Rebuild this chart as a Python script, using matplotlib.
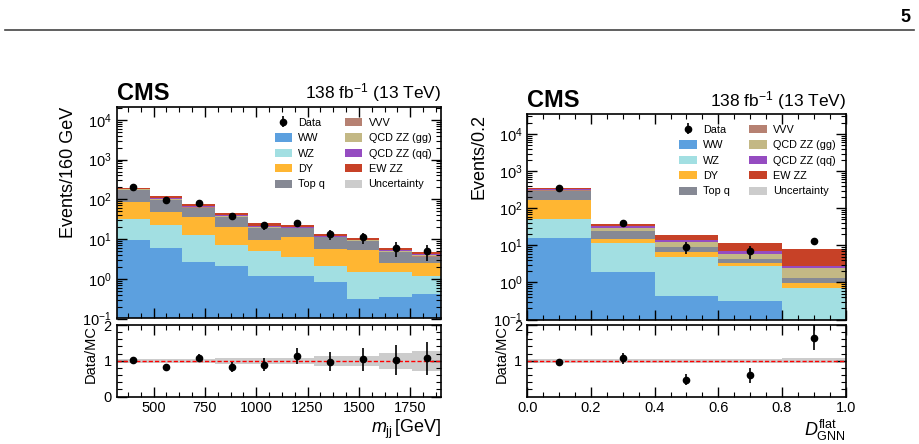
import numpy as np
import matplotlib
matplotlib.use("Agg")
import matplotlib.pyplot as plt
from matplotlib.lines import Line2D
from matplotlib.patches import Patch
from matplotlib.ticker import AutoMinorLocator, LogLocator, NullFormatter, FixedLocator, FormatStrFormatter

plt.rcParams['font.family'] = ['Liberation Sans', 'DejaVu Sans']
plt.rcParams['mathtext.fontset'] = 'custom'
plt.rcParams['mathtext.rm'] = 'Liberation Sans'
plt.rcParams['mathtext.it'] = 'Liberation Sans:italic'
plt.rcParams['mathtext.bf'] = 'Liberation Sans:bold'

# ---- left panel: m_jj ----
mjj_edges = [320, 480, 640, 800, 960, 1120, 1280, 1440, 1600, 1760, 1900]
mjj_ww = [9.4, 6.0, 2.66, 2.1, 1.19, 1.15, 0.81, 0.30, 0.35, 0.42]
mjj_wz = [22.2, 16.4, 9.9, 5.0, 3.9, 2.45, 1.34, 1.14, 1.09, 0.72]
mjj_dy = [53.4, 24.6, 22.4, 13.3, 4.3, 7.8, 3.45, 3.86, 1.02, 1.42]
mjj_top = [83, 47, 27, 15.6, 9.8, 7.1, 5.4, 3.6, 2.19, 1.04]
mjj_vvv = [1.0, 0.8, 0.5, 0.3, 0.2, 0.2, 0.1, 0.1, 0.05, 0.05]
mjj_gg = [8, 5, 3, 2, 1.0, 0.6, 0.4, 0.3, 0.2, 0.2]
mjj_qq = [9, 9, 4, 3, 1.5, 1.0, 0.6, 0.4, 0.3, 0.25]
mjj_ew = [10, 10, 5.5, 4.2, 2.8, 1.7, 1.2, 0.9, 0.65, 0.6]
mjj_data = [200, 98, 81, 38, 22, 25, 13, 11, 6, 5]
mjj_data_err = [14, 10, 9, 6.2, 4.7, 5, 3.6, 3.3, 2.4, 2.2]
mjj_unc = [0.05, 0.05, 0.05, 0.09, 0.09, 0.09, 0.14, 0.14, 0.23, 0.28]

# ---- right panel: D_GNN ----
gnn_edges = [0.0, 0.2, 0.4, 0.6, 0.8, 1.0]
gnn_ww = [15.5, 1.93, 0.43, 0.32, 0.05]
gnn_wz = [37.5, 10.0, 4.47, 2.48, 0.64]
gnn_dy = [110, 2.9, 1.7, 0.6, 0.27]
gnn_top = [139, 9.7, 2.3, 0.85, 0.32]
gnn_vvv = [2, 0.1, 0.1, 0.05, 0.02]
gnn_gg = [15, 4.2, 3.0, 1.5, 1.1]
gnn_qq = [20, 4.2, 2.1, 1.1, 0.4]
gnn_ew = [18, 5.5, 5.0, 5.0, 5.1]
gnn_data = [343, 41, 9, 7, 13]
gnn_data_err = [18.5, 6, 3, 2.6, 2.7]
gnn_unc = [0.05, 0.05, 0.05, 0.05, 0.07]

labels = ['WW', 'WZ', 'DY', 'Top q', 'VVV', 'QCD ZZ (gg)',
          'QCD ZZ (qq\u0304)', 'EW ZZ']
colors = ['#3f90da', '#92dadd', '#ffa90e', '#717581', '#a96b59',
          '#b9ac70', '#832db6', '#bd1f01']
unc_color = '#cccccc'

W, H = 920, 444
fig = plt.figure(figsize=(W / 100, H / 100), dpi=100)

# page header
fig.add_artist(Line2D([5 / W, 914 / W], [1 - 30 / H] * 2, color='#444444', lw=1.2))
fig.text(905 / W, 1 - 18 / H, '5', fontsize=13, fontweight='bold', ha='center', va='center')


def px_axes(x0, x1, y0, y1):
    return fig.add_axes([x0 / W, 1 - y1 / H, (x1 - x0) / W, (y1 - y0) / H])


def style_axes(ax):
    ax.tick_params(which='both', direction='in', top=True, right=True, labelsize=10.5)
    ax.tick_params(which='major', length=7, width=1)
    ax.tick_params(which='minor', length=3.5, width=0.8)
    for s in ax.spines.values():
        s.set_linewidth(1.2)


def draw_panel(ax, rax, edges, comps, data, derr, unc, ylim, ylabel, xlabel,
               xticks, legend_anchor):
    edges = np.array(edges)
    centers = 0.5 * (edges[1:] + edges[:-1])
    base = np.full(len(centers), 1e-3)
    for vals, col in zip(comps, colors):
        top = base + np.array(vals)
        ax.stairs(top, edges, baseline=base, fill=True, color=col, alpha=0.85, lw=0)
        base = top
    total = base
    ax.errorbar(centers, data, yerr=derr, fmt='o', color='black', ms=4.5,
                elinewidth=1.2, capsize=0)
    ax.set_yscale('log')
    ax.set_ylim(*ylim)
    ax.set_xlim(edges[0], edges[-1])
    ax.yaxis.set_major_locator(LogLocator(base=10, numticks=10))
    ax.yaxis.set_minor_locator(LogLocator(base=10, subs=np.arange(2, 10), numticks=20))
    ax.yaxis.set_minor_formatter(NullFormatter())
    ax.xaxis.set_minor_locator(AutoMinorLocator(4))
    ax.set_xticks(xticks)
    ax.tick_params(labelbottom=False)
    style_axes(ax)
    ax.set_ylabel(ylabel, loc='top', fontsize=13)

    eb = ax.errorbar([], [], yerr=[], fmt='o', color='black', ms=4.5, elinewidth=1.2)
    handles = [eb] + [Patch(facecolor=c, alpha=0.85) for c in colors[:4]]
    handles += [Patch(facecolor=c, alpha=0.85) for c in colors[4:]]
    handles += [Patch(facecolor=unc_color)]
    hlabels = ['Data'] + labels[:4] + labels[4:] + ['Uncertainty']
    ax.legend(handles, hlabels, ncol=2, loc='upper right', bbox_to_anchor=legend_anchor,
              frameon=False, fontsize=7.8, handlelength=1.6, handleheight=0.8,
              labelspacing=0.5, columnspacing=1.8, handletextpad=0.6)

    # ratio panel
    unc = np.array(unc)
    rax.stairs(1 + unc, edges, baseline=1 - unc, fill=True, color=unc_color, lw=0)
    rax.axhline(1, color='red', ls=(0, (3, 1.5)), lw=1)
    ratio = np.array(data) / total
    rerr = np.array(derr) / total
    rax.errorbar(centers, ratio, yerr=rerr, fmt='o', color='black', ms=4.5,
                 elinewidth=1.2, capsize=0)
    rax.set_xlim(edges[0], edges[-1])
    rax.set_ylim(0, 2)
    rax.set_xticks(xticks)
    rax.xaxis.set_minor_locator(AutoMinorLocator(4))
    rax.yaxis.set_minor_locator(AutoMinorLocator(5))
    style_axes(rax)
    rax.set_ylabel('Data/MC', loc='top', fontsize=10.5)
    rax.set_xlabel(xlabel, loc='right', fontsize=13, labelpad=2)


ax1 = px_axes(116.7, 441, 107, 318.5)
rax1 = px_axes(116.7, 441, 325, 396.5)
draw_panel(ax1, rax1, mjj_edges,
           [mjj_ww, mjj_wz, mjj_dy, mjj_top, mjj_vvv, mjj_gg, mjj_qq, mjj_ew],
           mjj_data, mjj_data_err, mjj_unc, (0.1, 2.1e4), 'Events/160 GeV',
           r'$m_{\mathrm{jj}}\,$[GeV]', [500, 750, 1000, 1250, 1500, 1750], (1.0, 0.995))
rax1.set_yticks([0, 1, 2])

ax2 = px_axes(527.3, 845.7, 114, 319.5)
rax2 = px_axes(527.3, 845.7, 325, 396.5)
draw_panel(ax2, rax2, gnn_edges,
           [gnn_ww, gnn_wz, gnn_dy, gnn_top, gnn_vvv, gnn_gg, gnn_qq, gnn_ew],
           gnn_data, gnn_data_err, gnn_unc, (0.1, 3.5e4), 'Events/0.2',
           r'$D_{\mathrm{GNN}}^{\mathrm{flat}}$', [0.0, 0.2, 0.4, 0.6, 0.8, 1.0], (1.0, 0.995))
rax2.set_yticks([1, 2])
rax2.yaxis.set_minor_locator(FixedLocator([0.2, 0.4, 0.6, 0.8, 1.2, 1.4, 1.6, 1.8]))
rax2.xaxis.set_major_formatter(FormatStrFormatter('%.1f'))

for ax in (ax1, ax2):
    ax.text(0, 1.01, 'CMS', transform=ax.transAxes, fontsize=17, fontweight='bold',
            ha='left', va='bottom')
    ax.text(1, 1.012, r'138 fb$^{-1}$ (13 TeV)', transform=ax.transAxes, fontsize=12.5,
            ha='right', va='bottom')

fig.savefig('out.png', dpi=100)
